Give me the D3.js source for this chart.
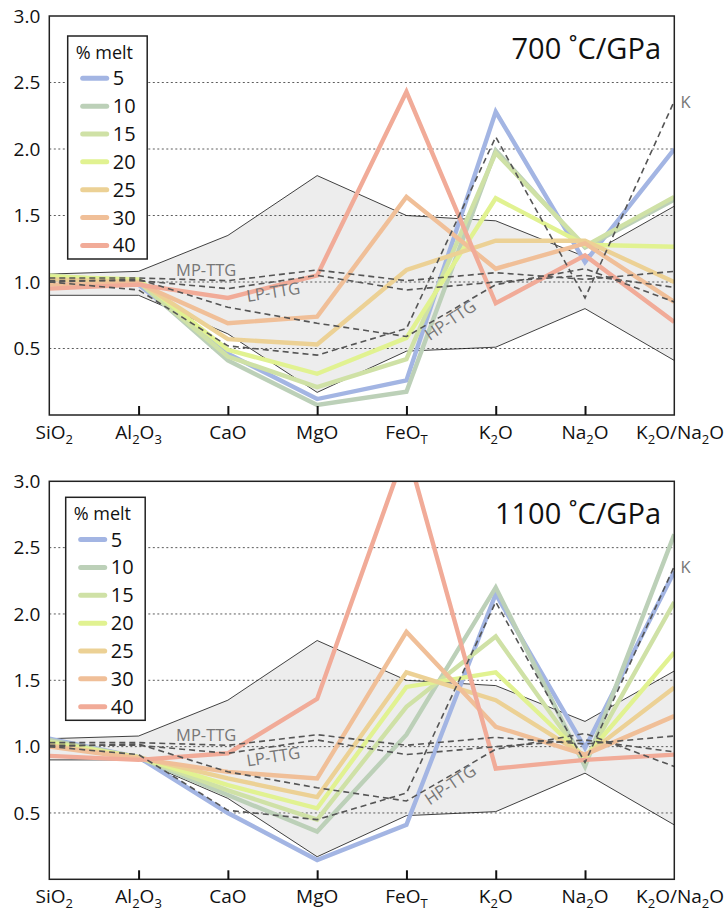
<!DOCTYPE html>
<html>
<head>
<meta charset="utf-8">
<script src="https://cdn.jsdelivr.net/npm/d3@7"></script>
<style>
  body { margin: 0; background: #fff; }
  svg { font-family: "Open Sans", "Noto Sans", sans-serif; }
</style>
</head>
<body>
<div id="container"></div>
<script>
// oxide categories, "_x" marks a subscript
var categories = ["SiO_2", "Al_2O_3", "CaO", "MgO", "FeO_T", "K_2O", "Na_2O", "K_2O/Na_2O"];
var meltLevels = [5, 10, 15, 20, 25, 30, 40];
var meltColors = ["#a3b5e3", "#bcd0b8", "#cfe1a6", "#e1f291", "#ecd195", "#f0bf98", "#f1ab98"];
var yTicks = [0.5, 1.0, 1.5, 2.0, 2.5, 3.0];

// 700 C/GPa, one row per melt fraction
var melt700 = [
    [1.02, 0.98, 0.46, 0.12, 0.26, 2.28, 1.15, 2.00],
    [1.04, 1.00, 0.41, 0.075, 0.175, 1.99, 1.26, 1.62],
    [1.05, 1.00, 0.44, 0.21, 0.42, 1.97, 1.27, 1.64],
    [1.04, 1.02, 0.49, 0.31, 0.58, 1.63, 1.28, 1.265],
    [1.02, 1.00, 0.57, 0.53, 1.09, 1.31, 1.31, 1.00],
    [0.98, 0.99, 0.69, 0.74, 1.64, 1.10, 1.29, 0.85],
    [0.95, 0.98, 0.88, 1.05, 2.43, 0.84, 1.20, 0.70]
];

// 1100 C/GPa
var melt1100 = [
    [1.06, 0.92, 0.50, 0.145, 0.41, 2.15, 0.99, 2.32],
    [1.05, 0.92, 0.635, 0.36, 1.09, 2.20, 0.85, 2.60],
    [1.04, 0.92, 0.67, 0.45, 1.30, 1.83, 0.89, 2.09],
    [1.03, 0.92, 0.71, 0.535, 1.45, 1.56, 0.92, 1.71],
    [1.01, 0.92, 0.76, 0.62, 1.56, 1.35, 0.93, 1.445],
    [1.00, 0.91, 0.81, 0.76, 1.865, 1.15, 0.94, 1.23],
    [0.93, 0.90, 0.95, 1.36, 3.25, 0.835, 0.90, 0.94]
];

// TTG envelope and reference compositions
var ttgUpper = [1.06, 1.08, 1.35, 1.80, 1.50, 1.46, 1.19, 1.57];
var ttgLower = [0.90, 0.90, 0.61, 0.17, 0.48, 0.51, 0.80, 0.41];
var mpTTG = [1.03, 1.03, 1.01, 1.09, 1.01, 1.07, 1.02, 1.08];
var lpTTG = [1.01, 1.01, 0.95, 1.05, 0.94, 1.00, 1.05, 0.96];
var hpTTG = [1.00, 1.02, 0.81, 0.69, 0.59, 0.98, 1.10, 0.85];
var kTTG = [1.00, 0.94, 0.52, 0.45, 0.65, 2.09, 0.88, 2.36];
var ttgLines = [mpTTG, lpTTG, hpTTG, kTTG];
// label: text, category position, value, rotation
var ttgLabels = [
    { text: "MP-TTG", at: 1.42, v: 1.045, rot: 0 },
    { text: "LP-TTG", at: 2.22, v: 0.85, rot: -9 },
    { text: "HP-TTG", at: 4.26, v: 0.555, rot: -34 },
    { text: "K", at: 7.07, v: 2.31, rot: 0 }
];

var panels = [
    { title: "700 \u02DAC/GPa", data: melt700, top: 16, bottom: 415, legX: 67.7, legY: 36 },
    { title: "1100 \u02DAC/GPa", data: melt1100, top: 481.3, bottom: 879.3, legX: 65.7, legY: 497.3 }
];

var width = 727, height = 911;
var left = 49.3, right = 674.3;

var svg = d3.select("#container").append("svg")
    .attr("width", width)
    .attr("height", height);

var x = d3.scalePoint().domain(d3.range(categories.length)).range([left, right]);
var xi = d3.scaleLinear().domain([0, categories.length - 1]).range([left, right]);

panels.forEach(function (p, pi) {
    var y = d3.scaleLinear().domain([0, 3]).range([p.bottom, p.top]);
    var g = svg.append("g");

    var clipId = "clip" + pi;
    svg.append("clipPath").attr("id", clipId)
        .append("rect")
        .attr("x", left).attr("y", p.top)
        .attr("width", right - left).attr("height", p.bottom - p.top);

    var line = d3.line()
        .x(function (d, i) { return x(i); })
        .y(function (d) { return y(d); });

    // grey TTG field
    var area = d3.area()
        .x(function (d, i) { return x(i); })
        .y0(function (d, i) { return y(ttgLower[i]); })
        .y1(function (d) { return y(d); });
    g.append("path")
        .attr("d", area(ttgUpper))
        .attr("fill", "#ededed");

    // dotted grid
    g.selectAll(".grid").data(yTicks.filter(function (t) { return t < 3; }))
        .enter().append("line")
        .attr("x1", left).attr("x2", right)
        .attr("y1", function (d) { return y(d); })
        .attr("y2", function (d) { return y(d); })
        .attr("stroke", "#333")
        .attr("stroke-width", 0.8)
        .attr("stroke-dasharray", "2,2.5");

    [ttgUpper, ttgLower].forEach(function (arr) {
        g.append("path").attr("d", line(arr))
            .attr("fill", "none").attr("stroke", "#111").attr("stroke-width", 0.8);
    });

    // melt lines
    var lines = g.append("g").attr("clip-path", "url(#" + clipId + ")");
    lines.selectAll(".melt").data(p.data)
        .enter().append("path")
        .attr("class", "melt")
        .attr("d", line)
        .attr("fill", "none")
        .attr("stroke", function (d, i) { return meltColors[i]; })
        .attr("stroke-width", 4.4)
        .attr("stroke-linejoin", "miter");

    // TTG reference dashed lines
    g.selectAll(".ttg").data(ttgLines)
        .enter().append("path")
        .attr("d", line)
        .attr("fill", "none")
        .attr("stroke", "#555")
        .attr("stroke-width", 1.6)
        .attr("stroke-dasharray", "6,4");

    g.selectAll(".ttglab").data(ttgLabels)
        .enter().append("text")
        .attr("transform", function (d) {
            return "translate(" + xi(d.at) + "," + y(d.v) + ") rotate(" + d.rot + ")";
        })
        .attr("fill", "#777")
        .attr("font-size", 16.5)
        .text(function (d) { return d.text; });

    // frame
    g.append("rect")
        .attr("x", left).attr("y", p.top)
        .attr("width", right - left).attr("height", p.bottom - p.top)
        .attr("fill", "none").attr("stroke", "#222").attr("stroke-width", 1.5);

    // y axis labels
    var yAxis = d3.axisLeft(y).tickValues(yTicks).tickSize(0).tickPadding(9)
        .tickFormat(d3.format(".1f"));
    var ya = g.append("g").attr("transform", "translate(" + left + ",0)").call(yAxis);
    ya.select(".domain").remove();
    ya.selectAll("text").attr("font-size", 19).attr("fill", "#111")
        .attr("font-family", "'Open Sans', sans-serif");

    // x ticks (inward)
    var xAxis = d3.axisBottom(x).tickSize(-9).tickFormat("");
    var xa = g.append("g").attr("transform", "translate(0," + p.bottom + ")").call(xAxis);
    xa.select(".domain").remove();
    xa.selectAll(".tick line").attr("stroke", "#111").attr("stroke-width", 2)
        .filter(function (d) { return d === 0 || d === categories.length - 1; }).remove();

    // x labels with subscripts
    categories.forEach(function (c, i) {
        var cx = x(i);
        var anchor = "middle";
        if (i === 0) { cx = x(i) + 5; }
        if (i === categories.length - 1) { cx = width - 3; anchor = "end"; }
        var t = g.append("text")
            .attr("x", cx).attr("y", p.bottom + 24)
            .attr("text-anchor", anchor)
            .attr("font-size", 19).attr("fill", "#111");
        var shifted = false;
        c.split(/(_.)/).forEach(function (part) {
            if (!part) return;
            if (part[0] === "_") {
                t.append("tspan").attr("font-size", 13).attr("dy", 5).text(part[1]);
                shifted = true;
            } else {
                t.append("tspan").attr("dy", shifted ? -5 : 0).text(part);
                shifted = false;
            }
        });
    });

    // title
    g.append("text")
        .attr("x", 661).attr("y", p.top + 43)
        .attr("text-anchor", "end")
        .attr("font-size", 29).attr("fill", "#111")
        .text(p.title);

    // legend
    var leg = g.append("g").attr("transform", "translate(" + p.legX + "," + p.legY + ")");
    leg.append("rect").attr("width", 79.5).attr("height", 223)
        .attr("fill", "#fff").attr("stroke", "#222").attr("stroke-width", 1.5);
    leg.append("text").attr("x", 8).attr("y", 23)
        .attr("font-size", 18).attr("fill", "#111").text("% melt");
    var item = leg.selectAll(".item").data(meltLevels)
        .enter().append("g")
        .attr("transform", function (d, i) { return "translate(0," + (42.3 + i * 27.85) + ")"; });
    item.append("line")
        .attr("x1", 15).attr("x2", 39)
        .attr("stroke", function (d, i) { return meltColors[i]; })
        .attr("stroke-width", 5).attr("stroke-linecap", "round");
    item.append("text").attr("x", 45).attr("y", 7)
        .attr("font-size", 20).attr("fill", "#111")
        .text(function (d) { return d; });
});
</script>
</body>
</html>
